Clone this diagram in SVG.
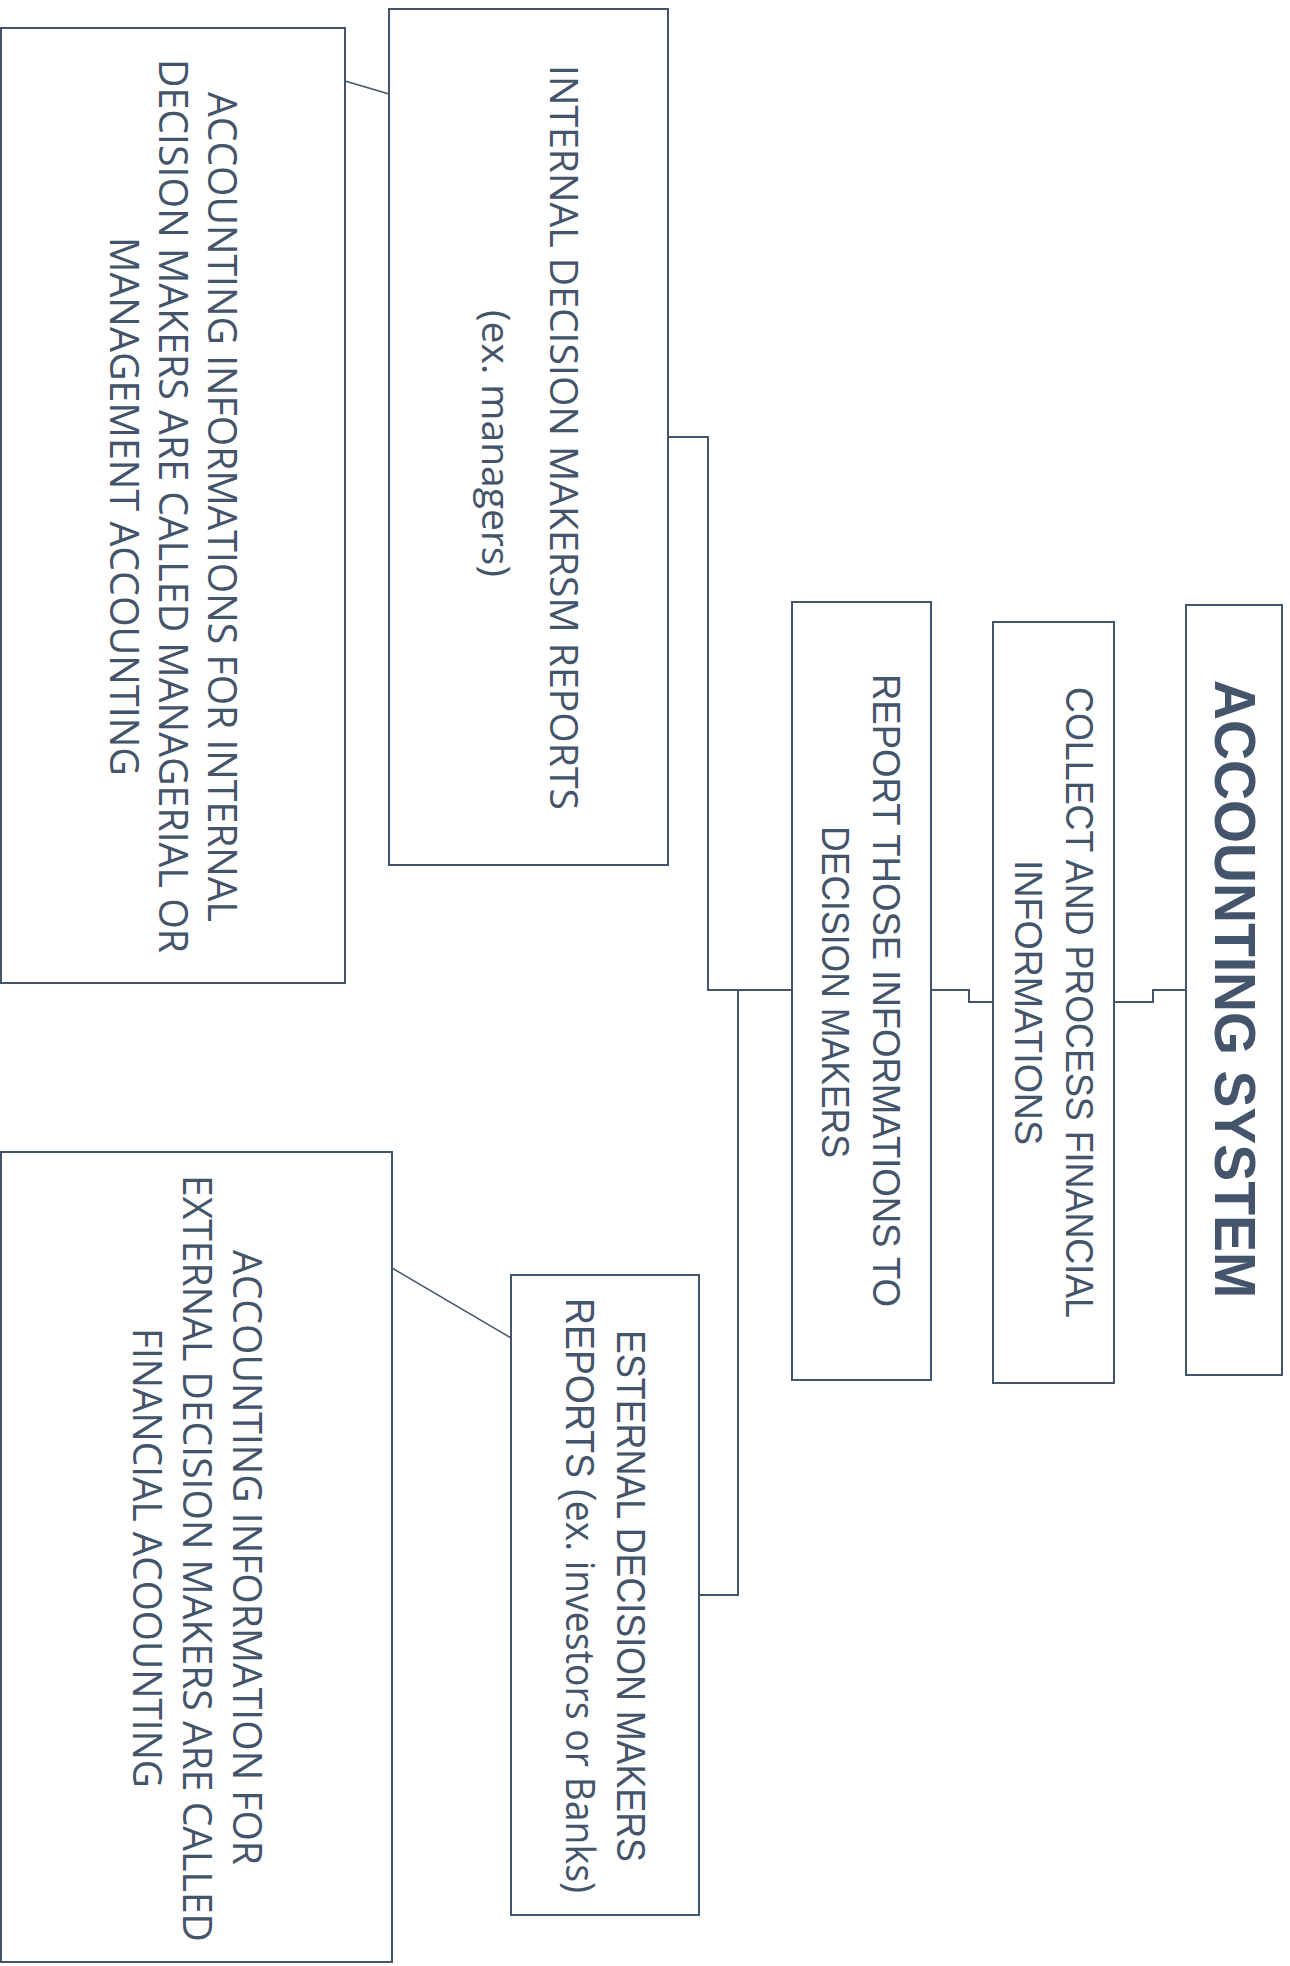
<svg xmlns="http://www.w3.org/2000/svg" width="1290" height="1966" viewBox="0 0 1290 1966">
<style>
.box{fill:#ffffff;stroke:#44546A;stroke-width:2}
.conn{fill:none;stroke:#44546A;stroke-width:2}
.diag{fill:none;stroke:#44546A;stroke-width:1.5}
.t{fill:#44546A}
.wide{font-family:"Open Sans","Liberation Sans",sans-serif;font-size:40px}
.narrow{font-family:"Liberation Sans",Arial,sans-serif;font-size:38px}
.title{font-family:"Liberation Sans",Arial,sans-serif;font-weight:bold;font-size:58px}
</style>
<rect x="0" y="0" width="1290" height="1966" fill="#ffffff"/>
<g id="connectors">
<polyline class="conn" points="931,990 969,990 969,1002 993,1002"/>
<polyline class="conn" points="1114,1002 1153,1002 1153,990 1186,990"/>
<polyline class="conn" points="792,990 708,990 708,437 668,437"/>
<polyline class="conn" points="738,990 738,1595 699,1595"/>
<line class="diag" x1="345" y1="81" x2="389" y2="94"/>
<line class="diag" x1="392" y1="1268" x2="511" y2="1338"/>
</g>
<g id="accounting-system">
<rect class="box" x="1186" y="605" width="96" height="770"/>
<text class="t title" transform="translate(1215,680) rotate(90)" textLength="618" lengthAdjust="spacingAndGlyphs">ACCOUNTING SYSTEM</text>
</g>
<g id="collect">
<rect class="box" x="993" y="622" width="121" height="761"/>
<text class="t narrow" transform="translate(1066,687) rotate(90)" textLength="631" lengthAdjust="spacingAndGlyphs">COLLECT AND PROCESS FINANCIAL</text>
<text class="t narrow" transform="translate(1015,860) rotate(90)" textLength="285" lengthAdjust="spacingAndGlyphs">INFORMATIONS</text>
</g>
<g id="report">
<rect class="box" x="792" y="602" width="139" height="778"/>
<text class="t narrow" transform="translate(873,674) rotate(90)" textLength="633" lengthAdjust="spacingAndGlyphs">REPORT THOSE INFORMATIONS TO</text>
<text class="t narrow" transform="translate(822,826) rotate(90)" textLength="332" lengthAdjust="spacingAndGlyphs">DECISION MAKERS</text>
</g>
<g id="internal">
<rect class="box" x="389" y="9" width="279" height="856"/>
<text class="t wide" style="font-size:39px" transform="translate(550,65) rotate(90)" textLength="745" lengthAdjust="spacingAndGlyphs">INTERNAL DECISION MAKERSM REPORTS</text>
<text class="t wide" style="font-size:39px" transform="translate(482,310) rotate(90)" textLength="267" lengthAdjust="spacingAndGlyphs">(ex. managers)</text>
</g>
<g id="managerial">
<rect class="box" x="1" y="28" width="344" height="955"/>
<text class="t wide" transform="translate(208,92) rotate(90)" textLength="830" lengthAdjust="spacingAndGlyphs">ACCOUNTING INFORMATIONS FOR INTERNAL</text>
<text class="t wide" transform="translate(159,59) rotate(90)" textLength="894" lengthAdjust="spacingAndGlyphs">DECISION MAKERS ARE CALLED MANAGERIAL OR</text>
<text class="t wide" transform="translate(110,237) rotate(90)" textLength="539" lengthAdjust="spacingAndGlyphs">MANAGEMENT ACCOUNTING</text>
</g>
<g id="external">
<rect class="box" x="511" y="1275" width="188" height="640"/>
<text class="t narrow" style="font-size:40px" transform="translate(617,1330) rotate(90)" textLength="532" lengthAdjust="spacingAndGlyphs">ESTERNAL DECISION MAKERS</text>
<text class="t narrow" style="font-size:40px" transform="translate(566,1298) rotate(90)" textLength="595" lengthAdjust="spacingAndGlyphs">REPORTS (<tspan style="font-family:'Open Sans','Liberation Sans',sans-serif">ex. investors or Banks)</tspan></text>
</g>
<g id="financial">
<rect class="box" x="1" y="1152" width="391" height="810"/>
<text class="t wide" transform="translate(233,1250) rotate(90)" textLength="615" lengthAdjust="spacingAndGlyphs">ACCOUNTING INFORMATION FOR</text>
<text class="t wide" transform="translate(183,1175) rotate(90)" textLength="767" lengthAdjust="spacingAndGlyphs">EXTERNAL DECISION MAKERS ARE CALLED</text>
<text class="t wide" transform="translate(133,1328) rotate(90)" textLength="460" lengthAdjust="spacingAndGlyphs">FINANCIAL ACOOUNTING</text>
</g>
</svg>
